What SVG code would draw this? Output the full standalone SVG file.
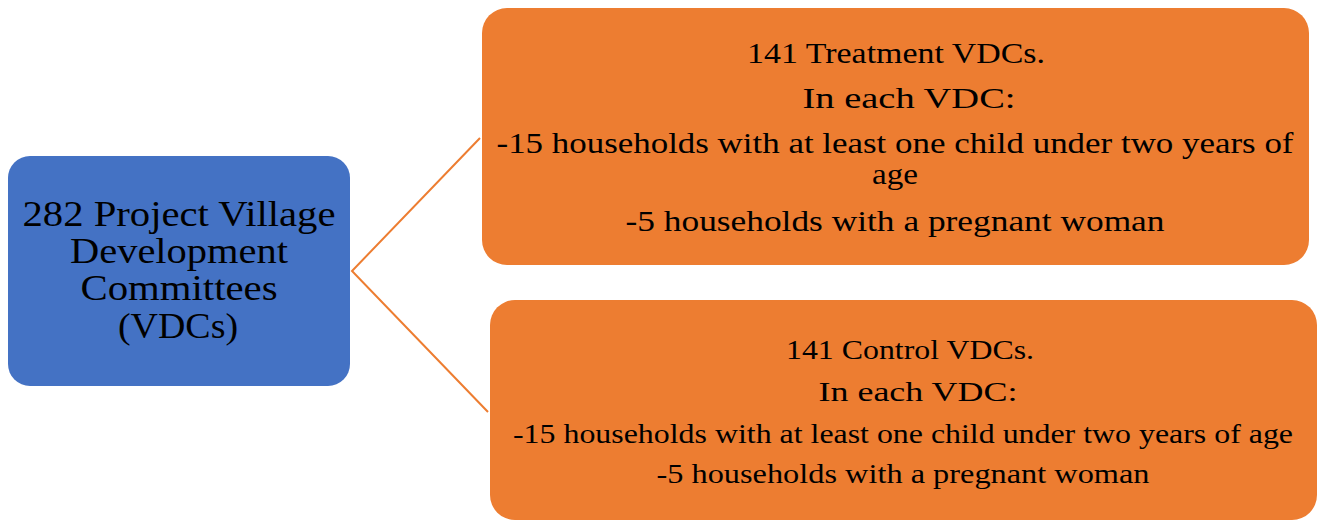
<svg xmlns="http://www.w3.org/2000/svg" width="1330" height="522" viewBox="0 0 1330 522">
<style>
text{font-family:"Liberation Serif","DejaVu Serif",serif;fill:#000;text-anchor:middle}
.b{font-size:35px}
.t{font-size:30px}
.c{font-size:28px}
.conn{stroke:#ED7D31;stroke-width:2;fill:none}
</style>
<rect width="1330" height="522" fill="#fff"/>
<g id="connectors">
<polyline class="conn" points="480,138 352,271 488,412"/>
</g>
<g id="root">
<rect x="8" y="156" width="342" height="230" rx="22" fill="#4472C4"/>
<text class="b" x="179" y="226" textLength="313" lengthAdjust="spacingAndGlyphs">282 Project Village</text>
<text class="b" x="179" y="263" textLength="218" lengthAdjust="spacingAndGlyphs">Development</text>
<text class="b" x="179" y="300" textLength="197" lengthAdjust="spacingAndGlyphs">Committees</text>
<text class="b" x="178" y="338" textLength="120" lengthAdjust="spacingAndGlyphs">(VDCs)</text>
</g>
<g id="treatment">
<rect x="482" y="8" width="827" height="257" rx="25" fill="#ED7D31"/>
<text class="t" x="896" y="63" textLength="298" lengthAdjust="spacingAndGlyphs">141 Treatment VDCs.</text>
<text class="t" x="909" y="108" textLength="213" lengthAdjust="spacingAndGlyphs">In each VDC:</text>
<text class="t" x="895" y="153" textLength="797" lengthAdjust="spacingAndGlyphs">-15 households with at least one child under two years of</text>
<text class="t" x="895" y="184" textLength="46" lengthAdjust="spacingAndGlyphs">age</text>
<text class="t" x="895" y="231" textLength="539" lengthAdjust="spacingAndGlyphs">-5 households with a pregnant woman</text>
</g>
<g id="control">
<rect x="490" y="300" width="827" height="220" rx="25" fill="#ED7D31"/>
<text class="c" x="910" y="359" textLength="248" lengthAdjust="spacingAndGlyphs">141 Control VDCs.</text>
<text class="c" x="918" y="401" textLength="199" lengthAdjust="spacingAndGlyphs">In each VDC:</text>
<text class="c" x="903" y="443" textLength="780" lengthAdjust="spacingAndGlyphs">-15 households with at least one child under two years of age</text>
<text class="c" x="903" y="483" textLength="493" lengthAdjust="spacingAndGlyphs">-5 households with a pregnant woman</text>
</g>
</svg>
